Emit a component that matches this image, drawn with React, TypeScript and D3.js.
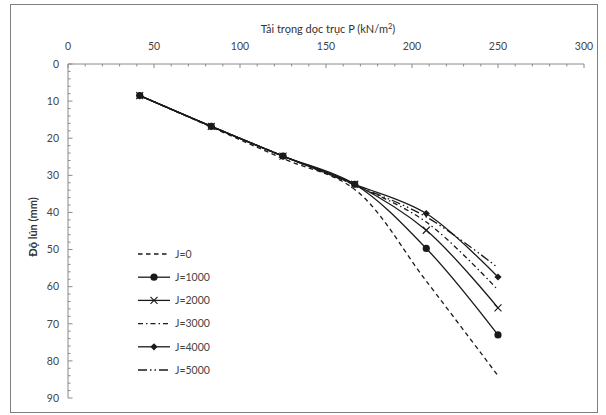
import React from "react";
import * as d3 from "d3";

// Axial load steps (kN/m²)
const loads = [41.7, 83.3, 125, 166.7, 208.3, 250];

// Settlement (mm) per stiffness J
const s0 = [8.5, 17.0, 25.5, 33.8, 58.5, 84.0];
const s1000 = [8.5, 16.8, 24.8, 32.4, 49.7, 73.0];
const s2000 = [8.5, 16.8, 24.8, 32.4, 44.8, 65.7];
const s3000 = [8.5, 16.8, 24.8, 32.6, 42.6, 60.9];
const s4000 = [8.5, 16.8, 24.8, 32.4, 40.3, 57.4];
const s5000 = [8.5, 16.8, 24.8, 32.6, 41.2, 54.9];

const seriesNames = ["J=0", "J=1000", "J=2000", "J=3000", "J=4000", "J=5000"];
const seriesValues = [s0, s1000, s2000, s3000, s4000, s5000];
const dashes = ["4.5,3.5", "", "", "5,3,1.5,3", "", "9,3,1.5,3,1.5,3"];
const markers = ["none", "circle", "cross", "none", "diamond", "none"];

const xTicks = [0, 50, 100, 150, 200, 250, 300];
const yTicks = [0, 10, 20, 30, 40, 50, 60, 70, 80, 90];

const W = 606;
const H = 415;
const FONT = "Lato, 'Open Sans', sans-serif";
const INK = "#1a1a1a";
const AXIS = "#8a8a8a";

function Marker({ kind, x, y }: { kind: string; x: number; y: number }) {
  if (kind === "circle") return <circle cx={x} cy={y} r={3.6} fill={INK} />;
  if (kind === "diamond")
    return (
      <path
        d={`M${x},${y - 3.6}L${x + 3.6},${y}L${x},${y + 3.6}L${x - 3.6},${y}Z`}
        fill={INK}
      />
    );
  if (kind === "cross")
    return (
      <path
        d={`M${x - 3.5},${y - 3.5}L${x + 3.5},${y + 3.5}M${x - 3.5},${y + 3.5}L${x + 3.5},${y - 3.5}`}
        stroke={INK}
        strokeWidth={1.1}
      />
    );
  return null;
}

export default function App() {
  const x = d3.scaleLinear().domain([0, 300]).range([68, 584]);
  const y = d3.scaleLinear().domain([0, 90]).range([64, 398]);

  const line = d3
    .line<number>()
    .x((_, i) => x(loads[i]))
    .y((d) => y(d))
    .curve(d3.curveCatmullRom.alpha(0.5));

  const xMinor = d3.range(0, 301, 10);
  const yMinor = d3.range(0, 91, 2);

  const legendX = 138;
  const legendY0 = 254;
  const legendStep = 23.2;

  return (
    <svg
      width={W}
      height={H}
      style={{ position: "absolute", left: 0, top: 0, background: "#fff" }}
      fontFamily={FONT}
    >
      <rect x={10.5} y={4.5} width={587} height={408} fill="#fff" stroke="#7f7f7f" strokeWidth={1} />

      {/* title */}
      <text x={328} y={33} textAnchor="middle" fontSize={11} fill="#333">
        Tải trọng dọc trục P (kN/m
        <tspan fontSize={7.5} dy={-4}>2</tspan>
        <tspan dy={4}>)</tspan>
      </text>

      {/* top x axis */}
      <line x1={x(0)} x2={x(300)} y1={y(0)} y2={y(0)} stroke={AXIS} strokeWidth={1} />
      {xMinor.map((v) => (
        <line
          key={"xm" + v}
          x1={x(v)}
          x2={x(v)}
          y1={y(0)}
          y2={y(0) + (v % 50 === 0 ? 4 : 2.5)}
          stroke={AXIS}
          strokeWidth={1}
        />
      ))}
      {xTicks.map((v) => (
        <text key={"xt" + v} x={x(v)} y={50} textAnchor="middle" fontSize={10.5} fill="#444">
          {v}
        </text>
      ))}

      {/* left y axis */}
      <line x1={x(0)} x2={x(0)} y1={y(0)} y2={y(90)} stroke={AXIS} strokeWidth={1} />
      {yMinor.map((v) => (
        <line
          key={"ym" + v}
          x1={x(0)}
          x2={x(0) + (v % 10 === 0 ? 4.5 : 2.5)}
          y1={y(v)}
          y2={y(v)}
          stroke={AXIS}
          strokeWidth={1}
        />
      ))}
      {yTicks.map((v) => (
        <text key={"yt" + v} x={59} y={y(v) + 3.8} textAnchor="end" fontSize={10.5} fill="#444">
          {v}
        </text>
      ))}
      <text
        transform={`translate(37,${(y(0) + y(90)) / 2 - 4}) rotate(-90)`}
        textAnchor="middle"
        fontSize={11}
        fontWeight="bold"
        fill="#333"
      >
        Độ lún (mm)
      </text>

      {/* series */}
      {seriesValues.map((vals, k) => (
        <g key={"s" + k}>
          <path
            d={line(vals) || ""}
            fill="none"
            stroke={INK}
            strokeWidth={1.3}
            strokeDasharray={dashes[k] || undefined}
          />
          {vals.map((v, i) => (
            <Marker key={i} kind={markers[k]} x={x(loads[i])} y={y(v)} />
          ))}
        </g>
      ))}

      {/* legend */}
      {seriesNames.map((name, k) => {
        const ly = legendY0 + k * legendStep;
        return (
          <g key={"l" + k}>
            <line
              x1={legendX}
              x2={legendX + 32}
              y1={ly}
              y2={ly}
              stroke={INK}
              strokeWidth={1.3}
              strokeDasharray={dashes[k] || undefined}
            />
            <Marker kind={markers[k]} x={legendX + 16} y={ly} />
            <text x={legendX + 37} y={ly + 3.8} fontSize={10.5} fill="#444">
              {name}
            </text>
          </g>
        );
      })}
    </svg>
  );
}
